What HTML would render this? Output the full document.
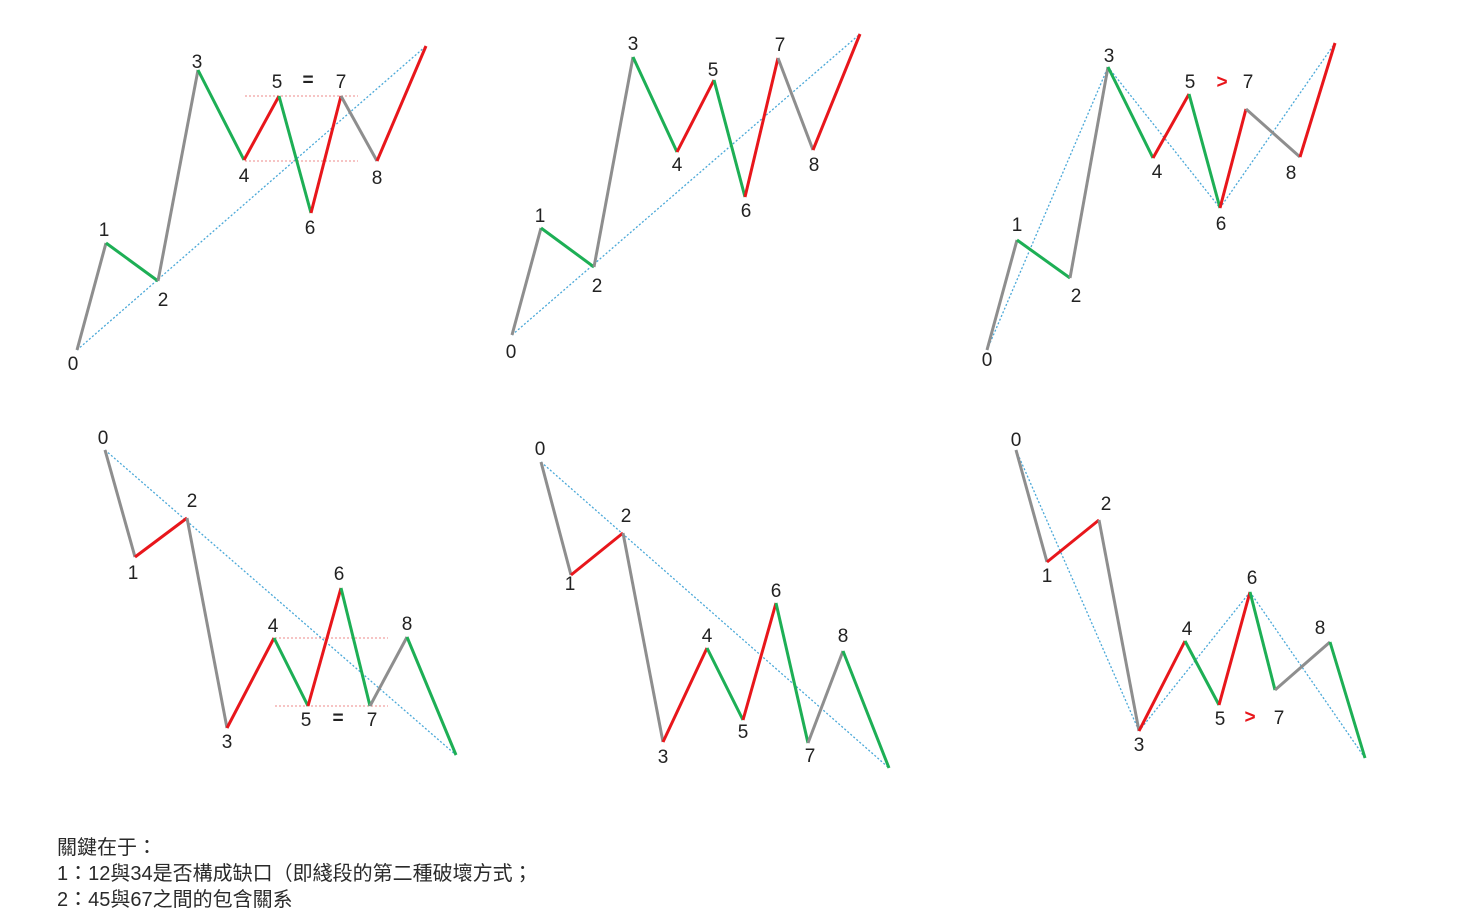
<!DOCTYPE html>
<html><head><meta charset="utf-8"><style>
html,body{margin:0;padding:0;background:#fff;width:1458px;height:913px;overflow:hidden}
svg{display:block}
.lbl{font-family:"Liberation Sans","Noto Sans CJK TC",sans-serif;font-size:19px;fill:#222;text-anchor:middle}
.note{position:absolute;left:57px;font-family:"Liberation Sans","Noto Sans CJK TC",sans-serif;font-size:20px;color:#2a2a2a}
</style></head><body>
<svg id="chart" width="1458" height="913" viewBox="0 0 1458 913"></svg>
<div class="note" style="top:831px">關鍵在于：</div>
<div class="note" style="top:857px">1：12與34是否構成缺口（即綫段的第二種破壞方式；</div>
<div class="note" style="top:883px">2：45與67之間的包含關系</div>
<script>
const G="#8e8e8e",N="#1daf55",R="#e8161b";
const p1x=[77,106,158,198,244,279,311,341,377,426];
const p1y=[350,243,281,70,160,96,213,96,161,46];
const p2x=[512,541,594,633,677,714,745,778,813,860];
const p2y=[335,228,267,57,152,80,197,58,150,34];
const p3x=[987,1017,1070,1108,1153,1189,1220,1246,1300,1335];
const p3y=[350,240,278,67,158,94,208,109,157,43];
const p4x=[105,135,187,227,274,308,341,370,407,456];
const p4y=[450,557,518,728,638,706,588,706,637,755];
const p5x=[541,571,623,663,707,743,776,808,843,889];
const p5y=[462,575,533,742,648,720,603,743,651,768];
const p6x=[1016,1047,1099,1139,1185,1219,1250,1275,1330,1365];
const p6y=[450,562,520,731,641,705,592,690,642,758];
const upColors=[G,N,G,N,R,N,R,G,R];
const downColors=[G,R,G,R,N,R,N,G,N];
const svg=document.getElementById('chart');
const NS="http://www.w3.org/2000/svg";
function line(x1,y1,x2,y2,c,w,dash,name){
  const l=document.createElementNS(NS,'line');
  l.setAttribute('x1',x1);l.setAttribute('y1',y1);l.setAttribute('x2',x2);l.setAttribute('y2',y2);
  l.setAttribute('stroke',c);l.setAttribute('stroke-width',w);
  if(dash)l.setAttribute('stroke-dasharray',dash);
  
  
  svg.appendChild(l);
}
function text(x,y,s,name,color){
  const t=document.createElementNS(NS,'text');
  t.setAttribute('x',x);t.setAttribute('y',y);t.setAttribute('class','lbl');
  if(color){t.style.fill=color;t.style.fontWeight='bold';}
  if(s==='='){t.style.fontWeight='bold';}
  t.textContent=s;
  
  
  svg.appendChild(t);
}
function panel(xs,ys,cols,dots,labels,pid){
  dots.forEach(d=>line(xs[d[0]],ys[d[0]],xs[d[1]],ys[d[1]],"#4aa8d8",1.3,"2,2",pid+'-trend-line'));
  for(let i=0;i<xs.length-1;i++)line(xs[i],ys[i],xs[i+1],ys[i+1],cols[i],3,null,pid+'-segment-'+i);
  labels.forEach(l=>text(l[0],l[1],l[2],pid+'-label-'+l[2],l[3]));
}
line(245,96,358,96,"#e88","1","2,2","p1-ref-line-top");
line(245,161,358,161,"#e88","1","2,2","p1-ref-line-bottom");
panel(p1x,p1y,upColors,[[0,9]],[[73,370,'0'],[104,236,'1'],[163,306,'2'],[197,68,'3'],[244,182,'4'],[277,88,'5'],[308,86,'='],[341,88,'7'],[310,234,'6'],[377,184,'8']],'p1');
panel(p2x,p2y,upColors,[[0,9]],[[511,358,'0'],[540,222,'1'],[597,292,'2'],[633,50,'3'],[677,171,'4'],[713,76,'5'],[746,217,'6'],[780,51,'7'],[814,171,'8']],'p2');
panel(p3x,p3y,upColors,[[0,3],[3,6],[6,9]],[[987,366,'0'],[1017,231,'1'],[1076,302,'2'],[1109,62,'3'],[1157,178,'4'],[1190,88,'5'],[1222,88,'>',R],[1248,88,'7'],[1221,230,'6'],[1291,179,'8']],'p3');
line(275,638,388,638,"#e88","1","2,2","p4-ref-line-top");
line(275,706,388,706,"#e88","1","2,2","p4-ref-line-bottom");
panel(p4x,p4y,downColors,[[0,9]],[[103,444,'0'],[133,579,'1'],[192,507,'2'],[227,748,'3'],[273,632,'4'],[339,580,'6'],[407,630,'8'],[306,726,'5'],[338,724,'='],[372,726,'7']],'p4');
panel(p5x,p5y,downColors,[[0,9]],[[540,455,'0'],[570,590,'1'],[626,522,'2'],[663,763,'3'],[707,642,'4'],[743,738,'5'],[776,597,'6'],[810,762,'7'],[843,642,'8']],'p5');
panel(p6x,p6y,downColors,[[0,3],[3,6],[6,9]],[[1016,446,'0'],[1047,582,'1'],[1106,510,'2'],[1139,751,'3'],[1187,635,'4'],[1220,725,'5'],[1252,584,'6'],[1320,634,'8'],[1250,723,'>',R],[1279,724,'7']],'p6');
</script>
</body></html>
